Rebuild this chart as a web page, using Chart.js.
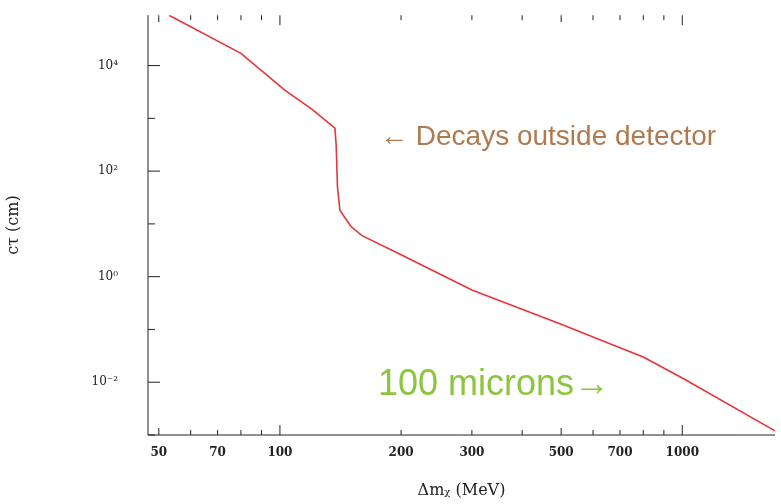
<!DOCTYPE html>
<html>
<head>
<meta charset="utf-8">
<script src="https://cdn.jsdelivr.net/npm/chart.js@4/dist/chart.umd.min.js"></script>
<style>
  html, body { margin: 0; background: #fff; overflow: hidden; }
  #wrap { width: 781px; height: 518px; margin-top: -14px; }
</style>
</head>
<body>
<div id="wrap"><canvas id="c"></canvas></div>
<script>
// mass splitting (MeV) vs decay length (cm)
const massValues = [53, 80, 103, 120, 137, 138, 139, 141, 150, 160, 200, 300, 500, 700, 800, 1000, 1700];
const ctauValues = [90000, 17000, 3400, 1500, 650, 300, 50, 18, 9, 6, 2.6, 0.56, 0.125, 0.045, 0.03, 0.012, 0.0012];
const xTickLabels = [50, 70, 100, 200, 300, 500, 700, 1000];
const yTickExponents = [4, 2, 0, -2];

const sup = { '-': '⁻', '0': '⁰', '1': '¹', '2': '²', '3': '³', '4': '⁴' };
const supStr = n => String(n).split('').map(c => sup[c]).join('');

const serif = 'DejaVu Serif';

// inward ticks on all four sides + annotations
const decor = {
  id: 'decor',
  afterDraw(chart) {
    const ctx = chart.ctx, a = chart.chartArea;
    const xs = chart.scales.x, ys = chart.scales.y;
    ctx.save();
    ctx.strokeStyle = '#222';
    ctx.lineWidth = 1;
    ctx.beginPath();
    ctx.moveTo(a.left, a.top); ctx.lineTo(a.left, a.bottom); ctx.lineTo(a.right, a.bottom);
    for (let d = 10; d <= 1000; d *= 10) {
      for (let m = 1; m < 10; m++) {
        const v = d * m;
        if (v < xs.min || v > xs.max) continue;
        const px = xs.getPixelForValue(v);
        const len = m === 1 ? 10 : (m === 5 ? 7 : 5);
        ctx.moveTo(px, a.bottom); ctx.lineTo(px, a.bottom - len);
        ctx.moveTo(px, a.top); ctx.lineTo(px, a.top + len);
      }
    }
    for (let e = -3; e <= 5; e++) {
      const v = Math.pow(10, e);
      if (v < ys.min || v > ys.max) continue;
      const py = ys.getPixelForValue(v);
      const len = e % 2 === 0 ? 12 : 7;
      ctx.moveTo(a.left, py); ctx.lineTo(a.left + len, py);
    }
    ctx.stroke();

    ctx.font = '28px "Liberation Sans"';
    ctx.fillStyle = '#b07a4f';
    ctx.textBaseline = 'middle';
    ctx.fillText('← Decays outside detector', 380, 151);
    ctx.font = '36px "Liberation Sans"';
    ctx.fillStyle = '#8cc63e';
    ctx.fillText('100 microns→', 378, 399);
    ctx.restore();
  }
};

new Chart(document.getElementById('c'), {
  type: 'scatter',
  data: {
    datasets: [{
      data: massValues.map((m, i) => ({ x: m, y: ctauValues[i] })),
      showLine: true,
      borderColor: '#e8343a',
      borderWidth: 1.6,
      pointRadius: 0,
      tension: 0
    }]
  },
  options: {
    responsive: true,
    maintainAspectRatio: false,
    animation: false,
    layout: { padding: { top: 0, right: 6, left: 0, bottom: 0 } },
    plugins: { legend: { display: false }, tooltip: { enabled: false } },
    scales: {
      x: {
        type: 'logarithmic',
        min: 47, max: 1700,
        afterBuildTicks: s => { s.ticks = xTickLabels.map(v => ({ value: v })); },
        afterFit: s => { s.height = 69; },
        ticks: { color: '#222', font: { family: serif, size: 12, weight: 'bold' }, maxRotation: 0, callback: v => v },
        grid: { display: false },
        border: { display: false },
        title: { display: true, text: 'Δm\u1D6A (MeV)', color: '#222', font: { family: serif, size: 16 }, padding: { top: 4 } }
      },
      y: {
        type: 'logarithmic',
        min: 0.001, max: 90000,
        afterBuildTicks: s => { s.ticks = yTickExponents.map(e => ({ value: Math.pow(10, e) })); },
        afterFit: s => { s.width = 148; },
        ticks: { color: '#222', font: { family: serif, size: 12 }, padding: 22, callback: v => '10' + supStr(Math.round(Math.log10(v))) },
        grid: { display: false },
        border: { display: false },
        title: { display: true, text: 'cτ (cm)', color: '#222', font: { family: serif, size: 16 }, padding: { bottom: 40 } }
      }
    }
  },
  plugins: [decor]
});
</script>
</body>
</html>
